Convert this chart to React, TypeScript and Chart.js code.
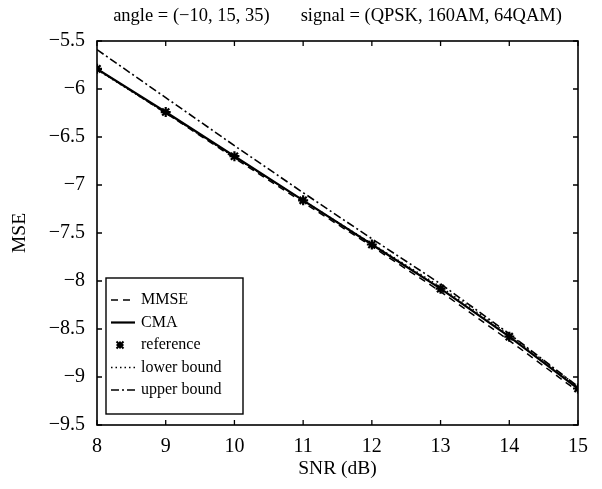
import React, { useEffect, useRef } from "react";
import { Chart, registerables } from "chart.js";

Chart.register(...registerables);

const SNR = [8, 9, 10, 11, 12, 13, 14, 15];
const MMSE = [-5.79, -6.25, -6.72, -7.18, -7.64, -8.11, -8.62, -9.15];
const CMA = [-5.79, -6.24, -6.7, -7.16, -7.62, -8.08, -8.58, -9.12];
const REFERENCE = [-5.79, -6.24, -6.7, -7.16, -7.62, -8.08, -8.58, -9.12];
const LOWER = [-5.8, -6.25, -6.71, -7.16, -7.61, -8.06, -8.56, -9.1];
const UPPER = [-5.59, -6.09, -6.59, -7.08, -7.56, -8.03, -8.55, -9.1];
const Y_MIN = -9.5;
const Y_MAX = -5.5;
const Y_STEP = 0.5;
const X_MIN = 8;
const X_MAX = 15;

const TITLE_LEFT = "angle = (\u221210, 15, 35)";
const TITLE_RIGHT = "signal = (QPSK, 160AM, 64QAM)";
const X_TITLE = "SNR (dB)";
const Y_TITLE = "MSE";

const SERIF = "'Liberation Serif', 'Times New Roman', Times, serif";

const pts = (ys: number[]) => SNR.map((x, i) => ({ x, y: ys[i] }));

const framePlugin = {
  id: "frameAndLegend",
  afterDraw(chart: any) {
    const ctx = chart.ctx;
    const { left, right, top, bottom } = chart.chartArea;
    const xs = chart.scales.x;
    const ys = chart.scales.y;
    ctx.save();
    ctx.strokeStyle = "#000";
    ctx.lineWidth = 1.6;
    ctx.setLineDash([]);
    ctx.strokeRect(left, top, right - left, bottom - top);
    ctx.lineWidth = 1.3;
    const tl = 5;
    xs.ticks.forEach((t: any) => {
      const p = xs.getPixelForValue(t.value);
      ctx.beginPath();
      ctx.moveTo(p, bottom);
      ctx.lineTo(p, bottom - tl);
      ctx.moveTo(p, top);
      ctx.lineTo(p, top + tl);
      ctx.stroke();
    });
    ys.ticks.forEach((t: any) => {
      const p = ys.getPixelForValue(t.value);
      ctx.beginPath();
      ctx.moveTo(left, p);
      ctx.lineTo(left + tl, p);
      ctx.moveTo(right, p);
      ctx.lineTo(right - tl, p);
      ctx.stroke();
    });
    ctx.fillStyle = "#000";
    ctx.font = `18.5px ${SERIF}`;
    ctx.textBaseline = "middle";
    ctx.textAlign = "left";
    const gap = 31;
    const w1 = ctx.measureText(TITLE_LEFT).width;
    const w2 = ctx.measureText(TITLE_RIGHT).width;
    const cx = (left + right) / 2;
    const x0 = cx - (w1 + gap + w2) / 2;
    ctx.fillText(TITLE_LEFT, x0, 16);
    ctx.fillText(TITLE_RIGHT, x0 + w1 + gap, 16);
    ctx.font = `19.5px ${SERIF}`;
    ctx.textAlign = "center";
    ctx.fillText(X_TITLE, cx, 469);
    ctx.save();
    ctx.translate(20, (top + bottom) / 2);
    ctx.rotate(-Math.PI / 2);
    ctx.fillText(Y_TITLE, 0, 0);
    ctx.restore();
    const bx = left + 9;
    const bw = 137;
    const bh = 136;
    const by = bottom - 11 - bh;
    ctx.lineWidth = 1.4;
    ctx.strokeRect(bx, by, bw, bh);
    ctx.font = `16px ${SERIF}`;
    ctx.textAlign = "left";
    chart.data.datasets.forEach((ds: any, i: number) => {
      const yy = by + 22 + i * 22.5;
      if (ds.showLine === false) {
        const mx = bx + 14;
        const r = 3.5;
        ctx.setLineDash([]);
        ctx.lineWidth = 2;
        ctx.beginPath();
        ctx.moveTo(mx - r, yy - r);
        ctx.lineTo(mx + r, yy + r);
        ctx.moveTo(mx + r, yy - r);
        ctx.lineTo(mx - r, yy + r);
        ctx.moveTo(mx, yy - r);
        ctx.lineTo(mx, yy + r);
        ctx.moveTo(mx - r, yy);
        ctx.lineTo(mx + r, yy);
        ctx.stroke();
      } else {
        ctx.setLineDash(ds.borderDash || []);
        ctx.lineWidth = ds.borderWidth;
        ctx.beginPath();
        ctx.moveTo(bx + 5, yy);
        ctx.lineTo(bx + 29, yy);
        ctx.stroke();
      }
      ctx.setLineDash([]);
      ctx.fillText(ds.label, bx + 35, yy);
    });
    ctx.restore();
  },
};

export default function App() {
  const ref = useRef<HTMLCanvasElement | null>(null);
  useEffect(() => {
    if (!ref.current) return;
    const chart = new Chart(ref.current, {
      type: "line",
      data: {
        datasets: [
          {
            label: "MMSE",
            data: pts(MMSE),
            borderColor: "#000",
            borderWidth: 1.5,
            borderDash: [7, 5],
            pointRadius: 0,
            fill: false,
          },
          {
            label: "CMA",
            data: pts(CMA),
            borderColor: "#000",
            borderWidth: 2.2,
            pointRadius: 0,
            fill: false,
          },
          {
            label: "reference",
            data: pts(REFERENCE),
            showLine: false,
            borderColor: "#000",
            backgroundColor: "#000",
            pointStyle: "star",
            pointRadius: 5,
            borderWidth: 2.2,
          },
          {
            label: "lower bound",
            data: pts(LOWER),
            borderColor: "#000",
            borderWidth: 1.3,
            borderDash: [1.5, 3],
            pointRadius: 0,
            fill: false,
          },
          {
            label: "upper bound",
            data: pts(UPPER),
            borderColor: "#000",
            borderWidth: 1.6,
            borderDash: [8, 3, 2, 3],
            pointRadius: 0,
            fill: false,
          },
        ],
      },
      options: {
        responsive: false,
        animation: false,
        layout: { padding: { top: 41, right: 24, left: 0, bottom: 0 } },
        plugins: {
          legend: { display: false },
          title: { display: false },
          tooltip: { enabled: false },
        },
        scales: {
          x: {
            type: "linear",
            min: X_MIN,
            max: X_MAX,
            grid: { display: false, drawTicks: false },
            border: { display: false },
            ticks: {
              stepSize: 1,
              padding: 10,
              color: "#000",
              font: { family: SERIF, size: 20 },
            },
            afterFit(scale: any) {
              scale.height = 64;
            },
          },
          y: {
            min: Y_MIN,
            max: Y_MAX,
            grid: { display: false, drawTicks: false },
            border: { display: false },
            ticks: {
              stepSize: Y_STEP,
              padding: 12,
              color: "#000",
              font: { family: SERIF, size: 20 },
              callback: (v: any) => String(v).replace("-", "\u2212"),
            },
            afterFit(scale: any) {
              scale.width = 97;
            },
          },
        },
      },
      plugins: [framePlugin],
    });
    return () => chart.destroy();
  }, []);
  return (
    <div style={{ position: "absolute", left: 0, top: 0, width: 602, height: 489, background: "#fff" }}>
      <canvas ref={ref} width={602} height={489} />
    </div>
  );
}
